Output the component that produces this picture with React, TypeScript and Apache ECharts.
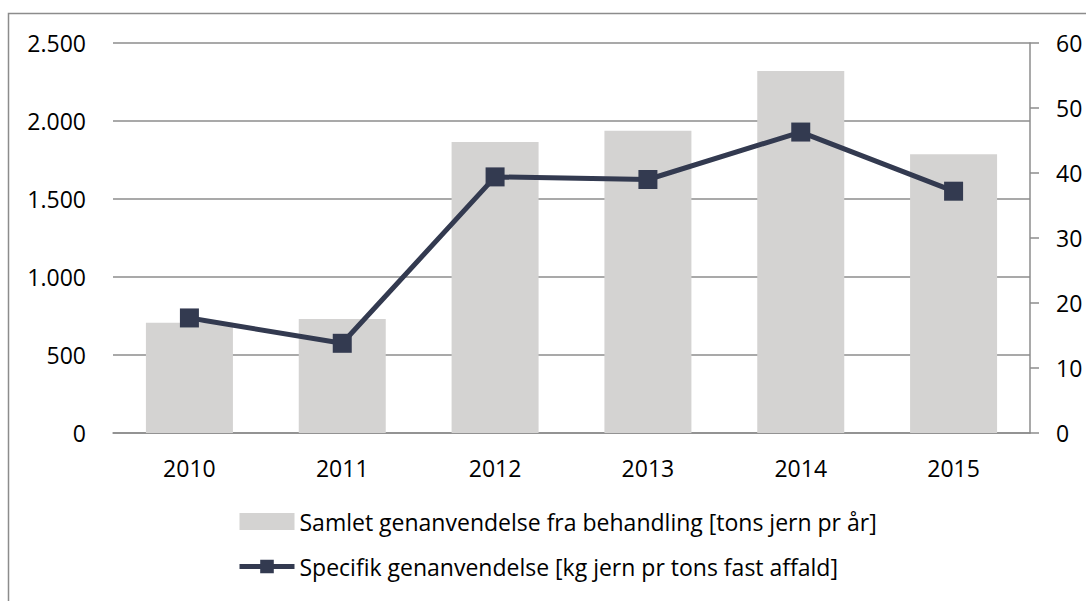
import React, { useEffect, useRef } from "react";
import * as echarts from "echarts";

const years = ["2010", "2011", "2012", "2013", "2014", "2015"];
const totalRecycling = [707, 730, 1865, 1938, 2320, 1787];
const specificRecycling = [17.7, 13.8, 39.4, 39.0, 46.3, 37.2];
const barName = "Samlet genanvendelse fra behandling [tons jern pr år]";
const lineName = "Specifik genanvendelse [kg jern pr tons fast affald]";

const FONT = "'Open Sans', 'Noto Sans', sans-serif";
const FS = 23;

function fmtThousands(v: number): string {
  return String(Math.round(v)).replace(/\B(?=(\d{3})+(?!\d))/g, ".");
}

export default function App() {
  const ref = useRef<HTMLDivElement>(null);
  useEffect(() => {
    if (!ref.current) return;
    const chart = echarts.init(ref.current, null, { renderer: "svg" });
    const axisGray = "#8c8c8c";
    chart.setOption({
      animation: false,
      backgroundColor: "#ffffff",
      textStyle: { fontFamily: FONT },
      grid: { left: 113, right: 56, top: 43, bottom: 168, containLabel: false, outerBoundsMode: "none" },
      graphic: [
        {
          type: "rect",
          shape: { x: 8.5, y: 13.5, width: 1200, height: 700 },
          style: { fill: "none", stroke: "#8c8c8c", lineWidth: 1.5 },
          silent: true,
          z: -10,
        },
      ],
      legend: {
        orient: "vertical",
        left: 237,
        top: 510,
        padding: 0,
        itemWidth: 55,
        itemHeight: 17,
        itemGap: 22,
        textStyle: { fontFamily: FONT, fontSize: FS, color: "#000" },
        data: [
          { name: barName, icon: "rect" },
          { name: lineName, lineStyle: { width: 5, color: "#333a50" } },
        ],
      },
      xAxis: {
        type: "category",
        data: years,
        axisTick: { show: false },
        axisLine: { show: true, lineStyle: { color: axisGray, width: 1.5 } },
        axisLabel: { fontFamily: FONT, fontSize: FS, color: "#000", margin: 23 },
      },
      yAxis: [
        {
          type: "value",
          min: 0,
          max: 2500,
          interval: 500,
          axisLine: { show: false },
          axisTick: { show: false },
          splitLine: { show: true, lineStyle: { color: axisGray, width: 1.5 } },
          axisLabel: {
            fontFamily: FONT,
            fontSize: FS,
            color: "#000",
            margin: 27,
            formatter: (v: number) => fmtThousands(v),
          },
        },
        {
          type: "value",
          min: 0,
          max: 60,
          interval: 10,
          position: "right",
          axisLine: { show: true, lineStyle: { color: axisGray, width: 1.5 } },
          axisTick: { show: true, inside: false, length: 9, lineStyle: { color: axisGray, width: 1.5 } },
          splitLine: { show: false },
          axisLabel: { fontFamily: FONT, fontSize: FS, color: "#000", margin: 26 },
        },
      ],
      series: [
        {
          name: barName,
          type: "bar",
          data: totalRecycling,
          yAxisIndex: 0,
          barWidth: 87,
          itemStyle: { color: "#d4d3d2" },
          z: 2,
        },
        {
          name: lineName,
          type: "line",
          data: specificRecycling,
          yAxisIndex: 1,
          symbol: "rect",
          symbolSize: 19,
          lineStyle: { color: "#333a50", width: 5 },
          itemStyle: { color: "#333a50" },
          z: 3,
        },
      ],
    });
    return () => chart.dispose();
  }, []);
  return <div ref={ref} style={{ width: 1086, height: 601, position: "absolute", left: 0, top: 0 }} />;
}
